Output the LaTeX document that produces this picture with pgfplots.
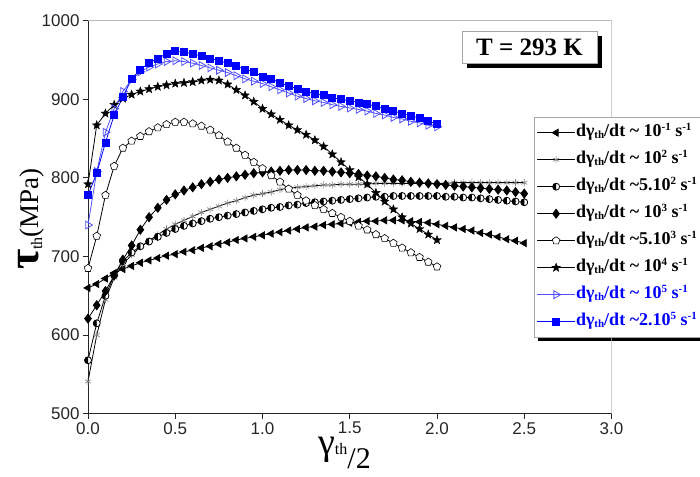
\documentclass[border=0pt]{standalone}
\usepackage{fontspec}
\setmainfont{Liberation Serif}
\setsansfont{Liberation Sans}
\usepackage{pgfplots}
\pgfplotsset{compat=1.18}
\usepackage{pgfplotstable}
\usetikzlibrary{plotmarks,shadows}
\definecolor{lblue}{RGB}{80,80,255}
\definecolor{dblue}{RGB}{0,0,255}
\pgfdeclareplotmark{fstar}{%
  \pgfpathmoveto{\pgfpointpolar{90}{\pgfplotmarksize}}%
  \pgfpathlineto{\pgfpointpolar{126}{0.42\pgfplotmarksize}}%
  \pgfpathlineto{\pgfpointpolar{162}{\pgfplotmarksize}}%
  \pgfpathlineto{\pgfpointpolar{198}{0.42\pgfplotmarksize}}%
  \pgfpathlineto{\pgfpointpolar{234}{\pgfplotmarksize}}%
  \pgfpathlineto{\pgfpointpolar{270}{0.42\pgfplotmarksize}}%
  \pgfpathlineto{\pgfpointpolar{306}{\pgfplotmarksize}}%
  \pgfpathlineto{\pgfpointpolar{342}{0.42\pgfplotmarksize}}%
  \pgfpathlineto{\pgfpointpolar{18}{\pgfplotmarksize}}%
  \pgfpathlineto{\pgfpointpolar{54}{0.42\pgfplotmarksize}}%
  \pgfpathclose
  \pgfusepathqfillstroke}

\pgfplotstableread{
x y
0 660
0.05 665
0.1 672
0.15 679
0.2 684
0.25 688
0.3 692
0.35 695
0.4 698
0.45 701
0.5 703
0.55 706
0.6 708
0.65 711
0.7 713
0.75 716
0.8 718
0.85 721
0.9 723
0.95 725
1.0 727
1.05 729
1.1 731
1.15 733
1.2 735
1.25 737
1.3 738
1.35 740
1.4 741
1.45 742
1.5 743
1.55 744
1.6 745
1.65 745
1.7 746
1.75 746
1.8 746
1.85 745
1.9 744
1.95 743
2.0 741
2.05 739
2.1 737
2.15 735
2.2 733
2.25 730
2.3 728
2.35 725
2.4 722
2.45 720
2.5 717
}\dataA

\pgfplotstableread{
x y
0 541
0.05 600
0.1 645
0.15 673
0.2 690
0.25 702
0.3 712
0.35 720
0.4 728
0.45 735
0.5 741
0.55 746
0.6 751
0.65 756
0.7 760
0.75 764
0.8 768
0.85 771
0.9 775
0.95 778
1.0 780
1.05 782
1.1 785
1.15 787
1.2 788
1.25 789
1.3 790
1.35 791
1.4 791
1.45 792
1.5 792
1.55 792
1.6 792
1.65 793
1.7 793
1.75 793
1.8 793
1.85 793
1.9 793
1.95 793
2.0 793
2.05 793
2.1 794
2.15 794
2.2 794
2.25 794
2.3 794
2.35 794
2.4 794
2.45 794
2.5 794
}\dataB

\pgfplotstableread{
x y
0 568
0.05 615
0.1 650
0.15 676
0.2 694
0.25 705
0.3 713
0.35 719
0.4 725
0.45 730
0.5 735
0.55 739
0.6 742
0.65 745
0.7 748
0.75 750
0.8 752
0.85 754
0.9 756
0.95 758
1.0 760
1.05 762
1.1 763
1.15 765
1.2 766
1.25 768
1.3 769
1.35 770
1.4 771
1.45 772
1.5 773
1.55 774
1.6 775
1.65 776
1.7 776
1.75 777
1.8 777
1.85 777
1.9 777
1.95 777
2.0 777
2.05 776
2.1 776
2.15 775
2.2 775
2.25 774
2.3 773
2.35 772
2.4 771
2.45 770
2.5 769
}\dataC

\pgfplotstableread{
x y
0 621
0.05 638
0.1 656
0.15 676
0.2 696
0.25 714
0.3 734
0.35 750
0.4 762
0.45 772
0.5 779
0.55 784
0.6 788
0.65 792
0.7 795
0.75 798
0.8 800
0.85 802
0.9 804
0.95 806
1.0 807
1.05 808
1.1 809
1.15 810
1.2 810
1.25 810
1.3 809
1.35 809
1.4 808
1.45 807
1.5 806
1.55 805
1.6 803
1.65 802
1.7 800
1.75 798
1.8 797
1.85 795
1.9 794
1.95 793
2.0 792
2.05 791
2.1 790
2.15 789
2.2 788
2.25 787
2.3 786
2.35 785
2.4 784
2.45 782
2.5 780
}\dataD

\pgfplotstableread{
x y
0 685
0.05 726
0.1 778
0.15 815
0.2 838
0.25 847
0.3 853
0.35 859
0.4 864
0.45 868
0.5 871
0.55 871
0.6 869
0.65 866
0.7 861
0.75 854
0.8 846
0.85 838
0.9 829
0.95 820
1.0 812
1.05 803
1.1 795
1.15 786
1.2 778
1.25 771
1.3 765
1.35 760
1.4 755
1.45 750
1.5 745
1.55 739
1.6 734
1.65 728
1.7 723
1.75 717
1.8 711
1.85 705
1.9 699
1.95 693
2.0 687
}\dataE

\pgfplotstableread{
x y
0 792
0.05 867
0.1 882
0.15 893
0.2 901
0.25 906
0.3 910
0.35 913
0.4 916
0.45 918
0.5 920
0.55 921
0.6 922
0.65 924
0.7 925
0.75 924
0.8 919
0.85 912
0.9 905
0.95 897
1.0 888
1.05 881
1.1 874
1.15 867
1.2 861
1.25 855
1.3 848
1.35 840
1.4 830
1.45 820
1.5 810
1.55 801
1.6 792
1.65 781
1.7 770
1.75 760
1.8 750
1.85 742
1.9 735
1.95 728
2.0 721
}\dataF

\pgfplotstableread{
x y
0 740
0.05 808
0.1 858
0.15 888
0.2 910
0.25 925
0.3 935
0.35 941
0.4 945
0.45 948
0.5 949
0.55 948
0.6 946
0.65 943
0.7 940
0.75 937
0.8 934
0.85 930
0.9 926
0.95 923
1.0 920
1.05 916
1.1 912
1.15 908
1.2 904
1.25 901
1.3 898
1.35 896
1.4 893
1.45 891
1.5 889
1.55 887
1.6 885
1.65 882
1.7 880
1.75 877
1.8 875
1.85 872
1.9 870
1.95 867
2.0 865
}\dataG

\pgfplotstableread{
x y
0 778
0.05 806
0.1 845
0.15 880
0.2 903
0.25 926
0.3 938
0.35 946
0.4 952
0.45 958
0.5 961
0.55 960
0.6 958
0.65 955
0.7 952
0.75 949
0.8 946
0.85 942
0.9 938
0.95 935
1.0 929
1.05 926
1.1 921
1.15 917
1.2 913
1.25 910
1.3 907
1.35 905
1.4 902
1.45 900
1.5 898
1.55 896
1.6 894
1.65 891
1.7 888
1.75 885
1.8 882
1.85 879
1.9 876
1.95 872
2.0 869
}\dataH

\newcommand{\lgd}[2]{dγ\raisebox{-2pt}{\fontsize{11}{11}\selectfont th}/dt #1\raisebox{6pt}{\fontsize{11}{11}\selectfont #2} s\raisebox{6pt}{\fontsize{11}{11}\selectfont -1}}

\begin{document}
\begin{tikzpicture}
\path[use as bounding box] (0pt,0pt) rectangle (700pt,476pt);
\clip (0pt,0pt) rectangle (700pt,476pt);
% legend shadow (behind the legend box)
\fill[black] (538pt,135pt) rectangle (710pt,355pt);
\begin{axis}[
  at={(88pt,62.3pt)}, anchor=south west,
  scale only axis, width=523.5pt, height=393pt,
  xmin=0, xmax=3, ymin=500, ymax=1000,
  axis lines=left, axis line style={-, black!85, line width=0.9pt},
  xtick={0,0.5,1,1.5,2,2.5,3}, ytick={500,600,700,800,900,1000},
  tick align=outside, major tick length=5pt,
  tick style={black!85, line width=0.9pt},
  /pgf/number format/assume math mode=true,
  /pgf/number format/1000 sep={},
  ticklabel style={font=\sffamily\fontsize{17}{17}\selectfont, text=black!85},
  xticklabel style={/pgf/number format/.cd, fixed, fixed zerofill, precision=1},
  legend cell align=left,
  legend image code/.code={\draw[mark repeat=2,mark phase=2] plot coordinates {(0pt,0pt) (19pt,0pt) (38pt,0pt)};},
  legend style={at={(0.852,0.755)}, anchor=north west, draw=gray!70, fill=white,
    font=\bfseries\fontsize{18}{18}\selectfont, inner xsep=2.5pt, inner ysep=6pt, row sep=8pt,
    nodes={inner sep=0.5pt, text height=13pt, text depth=5pt}},
]
\draw[gray!55, line width=0.9pt] (rel axis cs:0,1) -- (rel axis cs:1,1) -- (rel axis cs:1,0);
\addplot[black, line width=0.8pt, mark=triangle*, mark size=4pt, mark options={rotate=90, fill=black}] table {\dataA};
\addlegendentry{\lgd{\textasciitilde{} 10}{-1}}
\addplot[black, line width=0.8pt, mark=asterisk, mark size=3.5pt, mark options={gray, line width=0.6pt}] table {\dataB};
\addlegendentry{\lgd{\textasciitilde{} 10}{2}}
\addplot[black, line width=0.8pt, mark=halfcircle*, mark size=3.5pt, mark color=black, mark options={fill=white, rotate=-90}] table {\dataC};
\addlegendentry{\lgd{\textasciitilde5.10}{2}}
\addplot[black, line width=0.8pt, mark=diamond*, mark size=4.5pt, mark options={fill=black}] table {\dataD};
\addlegendentry{\lgd{\textasciitilde{} 10}{3}}
\addplot[black, line width=0.8pt, mark=pentagon*, mark size=4pt, mark options={fill=white, line width=0.6pt}] table {\dataE};
\addlegendentry{\lgd{\textasciitilde5.10}{3}}
\addplot[black, line width=0.8pt, mark=fstar, mark size=4.5pt, mark options={fill=black, line width=0.4pt}] table {\dataF};
\addlegendentry{\lgd{\textasciitilde{} 10}{4}}
\addplot[lblue, line width=0.8pt, mark=triangle, mark size=4.5pt, mark options={rotate=-90, fill=white}] table {\dataG};
\addlegendentry{\color{dblue}\lgd{\textasciitilde{} 10}{5}}
\addplot[dblue, line width=0.8pt, mark=square*, mark size=3.5pt, mark options={fill=dblue}] table {\dataH};
\addlegendentry{\color{dblue}\lgd{\textasciitilde2.10}{5}}
\end{axis}
\node[draw=gray!70, fill=white, line width=0.8pt, minimum width=135pt, minimum height=32pt,
  inner sep=0pt, font=\bfseries\fontsize{25}{25}\selectfont,
  drop shadow={shadow xshift=5pt, shadow yshift=-5pt, fill=black, opacity=1}]
  at (529.5pt,429pt) {T = 293 K};
\node[rotate=90, anchor=center] at (31pt,257pt)
  {{\fontsize{44}{44}\selectfont\bfseries τ}\raisebox{-4pt}{\fontsize{16}{16}\selectfont th}{\fontsize{27}{27}\selectfont(MPa)}};
\node[anchor=base west, inner sep=0pt] at (318pt,22pt)
  {{\fontsize{38}{38}\selectfont γ}{\fontsize{16}{16}\selectfont th}\raisebox{-14pt}{\fontsize{30}{30}\selectfont /2}};
\end{tikzpicture}
\end{document}
